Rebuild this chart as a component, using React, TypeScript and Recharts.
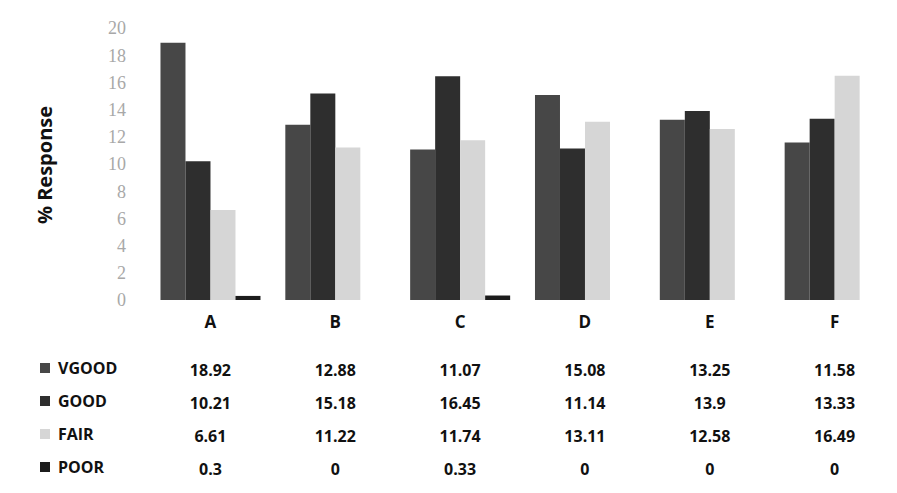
import { BarChart, Bar, XAxis, YAxis } from "recharts";

const categories = ["A", "B", "C", "D", "E", "F"];
const vgood = [18.92, 12.88, 11.07, 15.08, 13.25, 11.58];
const good = [10.21, 15.18, 16.45, 11.14, 13.9, 13.33];
const fair = [6.61, 11.22, 11.74, 13.11, 12.58, 16.49];
const poor = [0.3, 0, 0.33, 0, 0, 0];
const yTicks = [0, 2, 4, 6, 8, 10, 12, 14, 16, 18, 20];

const SERIES = [
  { key: "VGOOD", values: vgood, color: "#474747" },
  { key: "GOOD", values: good, color: "#2e2e2e" },
  { key: "FAIR", values: fair, color: "#d6d6d6" },
  { key: "POOR", values: poor, color: "#1c1c1c" },
];

const data = categories.map((c, i) => ({
  name: c,
  VGOOD: vgood[i],
  GOOD: good[i],
  FAIR: fair[i],
  POOR: poor[i],
}));

const TABLE_FONT = "'Open Sans', 'DejaVu Sans', sans-serif";
const ROW_Y = [68, 101, 134, 167];

function CategoryTick(props: any) {
  const { x, y, payload, index } = props;
  return (
    <g>
      <text x={x} y={y + 20} textAnchor="middle" fontFamily={TABLE_FONT} fontWeight={700} fontSize={17} fill="#111">
        {payload.value}
      </text>
      {SERIES.map((s, r) => (
        <text key={s.key} x={x} y={y + ROW_Y[r]} textAnchor="middle" fontFamily={TABLE_FONT} fontWeight={700} fontSize={16} fill="#111">
          {String(s.values[index])}
        </text>
      ))}
    </g>
  );
}

export default function App() {
  return (
    <div style={{ position: "absolute", left: 0, top: 0, width: 897, height: 493, background: "#fff" }}>
      <BarChart
        width={897}
        height={493}
        data={data}
        margin={{ top: 28, right: 0, bottom: 0, left: 0 }}
        barCategoryGap="10%"
        barGap={0}
      >
        <XAxis dataKey="name" axisLine={false} tickLine={false} height={193} tick={<CategoryTick />} interval={0} />
        <YAxis
          domain={[0, 20]}
          ticks={yTicks}
          width={148}
          axisLine={false}
          tickLine={false}
          tickMargin={16}
          tick={{ fontFamily: "'Liberation Serif', serif", fontSize: 18, fill: "#a8a8a8" }}
        />
        {SERIES.map((s) => (
          <Bar key={s.key} dataKey={s.key} fill={s.color} isAnimationActive={false} />
        ))}
      </BarChart>
      <div
        style={{
          position: "absolute",
          left: 44,
          top: 165,
          transform: "translate(-50%, -50%) rotate(-90deg)",
          fontFamily: TABLE_FONT,
          fontWeight: 700,
          fontSize: 20,
          color: "#111",
          whiteSpace: "nowrap",
        }}
      >
        % Response
      </div>
      {SERIES.map((s, r) => (
        <div
          key={s.key}
          style={{
            position: "absolute",
            left: 40,
            top: 300 + ROW_Y[r] - 9,
            display: "flex",
            alignItems: "center",
            gap: 8,
            fontFamily: TABLE_FONT,
            fontWeight: 700,
            fontSize: 16,
            color: "#111",
            lineHeight: "18px",
          }}
        >
          <span style={{ width: 10, height: 10, background: s.color }} />
          {s.key}
        </div>
      ))}
    </div>
  );
}
